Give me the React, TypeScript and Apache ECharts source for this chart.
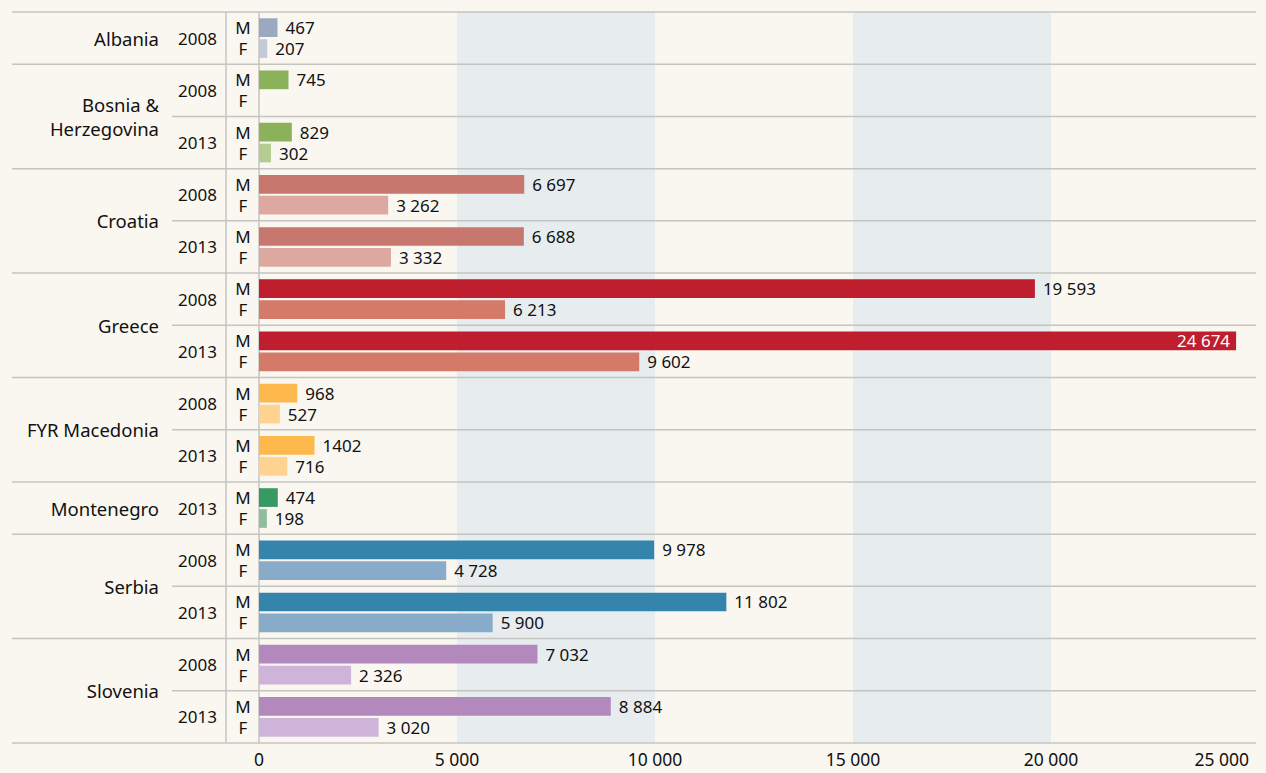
import React, { useEffect, useRef } from "react";
import * as echarts from "echarts";

// ---- data ----
const rowCountry = [
  "Albania",
  "Bosnia & Herzegovina",
  "Bosnia & Herzegovina",
  "Croatia",
  "Croatia",
  "Greece",
  "Greece",
  "FYR Macedonia",
  "FYR Macedonia",
  "Montenegro",
  "Serbia",
  "Serbia",
  "Slovenia",
  "Slovenia",
];
const rowYear = ["2008", "2008", "2013", "2008", "2013", "2008", "2013", "2008", "2013", "2013", "2008", "2013", "2008", "2013"];
const maleValues = [467, 745, 829, 6697, 6688, 19593, 24674, 968, 1402, 474, 9978, 11802, 7032, 8884];
const femaleValues: (number | null)[] = [207, null, 302, 3262, 3332, 6213, 9602, 527, 716, 198, 4728, 5900, 2326, 3020];
const maleLabels = ["467", "745", "829", "6 697", "6 688", "19 593", "24 674", "968", "1402", "474", "9 978", "11 802", "7 032", "8 884"];
const femaleLabels = ["207", "", "302", "3 262", "3 332", "6 213", "9 602", "527", "716", "198", "4 728", "5 900", "2 326", "3 020"];
const countryDisplay: Record<string, string> = {
  "Bosnia & Herzegovina": "Bosnia &\nHerzegovina",
};
const maleColors: Record<string, string> = {
  Albania: "#9aa8c1",
  "Bosnia & Herzegovina": "#8bb15a",
  Croatia: "#c8776e",
  Greece: "#be1e2e",
  "FYR Macedonia": "#fdb94c",
  Montenegro: "#379963",
  Serbia: "#3484ab",
  Slovenia: "#b389bd",
};
const femaleColors: Record<string, string> = {
  Albania: "#c3c9d8",
  "Bosnia & Herzegovina": "#b4cc92",
  Croatia: "#dca89f",
  Greece: "#d37a69",
  "FYR Macedonia": "#fed38f",
  Montenegro: "#8fbe9b",
  Serbia: "#87abc8",
  Slovenia: "#cdb4d8",
};
const xTicks = { min: 0, max: 25000, interval: 5000 };
const sexLabels = ["M", "F"];

const FONT = "'Noto Sans', 'Open Sans', sans-serif";
const TEXT = "#111111";
const LINE = "#c6c4c0";
const BG = "#faf7f1";
const BAND = "#e7ecee";

const fmt = (v: number) => String(v).replace(/\B(?=(\d{3})+(?!\d))/g, " ");

export default function App() {
  const ref = useRef<HTMLDivElement>(null);
  useEffect(() => {
    const chart = echarts.init(ref.current!, null, { renderer: "svg" });
    const chartWidth = 1266;
    const labelFont = 17;
    const barLabel = (texts: string[]) => ({
      show: true,
      position: "right" as const,
      distance: 8,
      fontSize: labelFont,
      fontFamily: FONT,
      color: TEXT,
      formatter: (p: any) => texts[p.dataIndex],
    });
    chart.setOption({
      animation: false,
      backgroundColor: BG,
      textStyle: { fontFamily: FONT },
      grid: { left: 259, right: 17, top: 12, bottom: 30, containLabel: false },
      xAxis: {
        type: "value",
        min: xTicks.min,
        max: xTicks.max,
        interval: xTicks.interval,
        axisLine: { show: false },
        axisTick: { show: false },
        splitLine: { show: false },
        splitArea: { show: true, areaStyle: { color: ["rgba(0,0,0,0)", BAND] } },
        axisLabel: {
          fontSize: 17.5,
          fontFamily: FONT,
          color: TEXT,
          margin: 7,
          alignMaxLabel: "right",
          formatter: (v: number) => fmt(v),
        },
      },
      yAxis: {
        type: "category",
        inverse: true,
        data: rowYear,
        axisLine: { show: true, lineStyle: { color: LINE, width: 1.5 } },
        axisTick: { show: false },
        splitLine: { show: false },
        axisLabel: { fontSize: 17, fontFamily: FONT, color: TEXT, margin: 42 },
      },
      series: [
        {
          name: "M",
          type: "bar",
          barWidth: 18.7,
          barGap: "12%",
          data: maleValues.map((v, i) => ({ value: v, itemStyle: { color: maleColors[rowCountry[i]] } })),
          label: barLabel(maleLabels),
        },
        {
          name: "F",
          type: "bar",
          barWidth: 18.7,
          barGap: "12%",
          data: femaleValues.map((v, i) => ({
            value: v == null ? "-" : v,
            itemStyle: { color: femaleColors[rowCountry[i]] },
          })),
          label: barLabel(femaleLabels),
        },
      ],
    });

    // a value label that would run past the page edge goes inside its bar
    const xPx = (v: number) => chart.convertToPixel({ xAxisIndex: 0 }, v) as number;
    const fits = (v: number, t: string) => xPx(v) + 8 + t.length * labelFont * 0.55 < chartWidth - 2;
    chart.setOption({
      series: [
        {
          data: maleValues.map((v, i) => ({
            value: v,
            itemStyle: { color: maleColors[rowCountry[i]] },
            label: fits(v, maleLabels[i]) ? undefined : { position: "insideRight", color: "#ffffff", distance: 6 },
          })),
        },
        {},
      ],
    });

    // Build decorations using the chart's own scales
    const yAt = (i: number) => chart.convertToPixel({ yAxisIndex: 0 }, i) as number;
    const bw = yAt(1) - yAt(0);
    const edge = (i: number) => yAt(0) + (i - 0.5) * bw;
    const xRight = xPx(xTicks.max) + 7;
    const n = rowYear.length;
    const graphic: any[] = [];
    const hline = (y: number, x1: number) => ({
      type: "line",
      z: 50,
      shape: { x1, y1: y, x2: xRight, y2: y },
      style: { stroke: LINE, lineWidth: 1.5 },
    });
    for (let i = 0; i <= n; i++) {
      const isCountry = i === 0 || i === n || rowCountry[i] !== rowCountry[i - 1];
      graphic.push(hline(edge(i), isCountry ? 12 : 172));
    }
    graphic.push({
      type: "line",
      z: 50,
      shape: { x1: 226, y1: edge(0), x2: 226, y2: edge(n) },
      style: { stroke: LINE, lineWidth: 1.5 },
    });
    const off = (18.7 * 1.12) / 2;
    for (let i = 0; i < n; i++) {
      sexLabels.forEach((s, k) => {
        graphic.push({
          type: "text",
          z: 50,
          x: 243,
          y: yAt(i) + (k === 0 ? -off : off),
          style: { text: s, fontSize: 17, fontFamily: FONT, fill: TEXT, align: "center", verticalAlign: "middle" },
        });
      });
    }
    let start = 0;
    for (let i = 1; i <= n; i++) {
      if (i === n || rowCountry[i] !== rowCountry[i - 1]) {
        const c = rowCountry[start];
        graphic.push({
          type: "text",
          z: 50,
          x: 159,
          y: (edge(start) + edge(i)) / 2,
          style: {
            text: countryDisplay[c] || c,
            fontSize: 18.5,
            lineHeight: 24,
            fontFamily: FONT,
            fill: TEXT,
            align: "right",
            verticalAlign: "middle",
          },
        });
        start = i;
      }
    }
    chart.setOption({ graphic });
    return () => chart.dispose();
  }, []);
  return (
    <div style={{ position: "absolute", left: 0, top: 0, width: 1266, height: 773, background: BG }}>
      <div ref={ref} style={{ width: 1266, height: 773 }} />
    </div>
  );
}
